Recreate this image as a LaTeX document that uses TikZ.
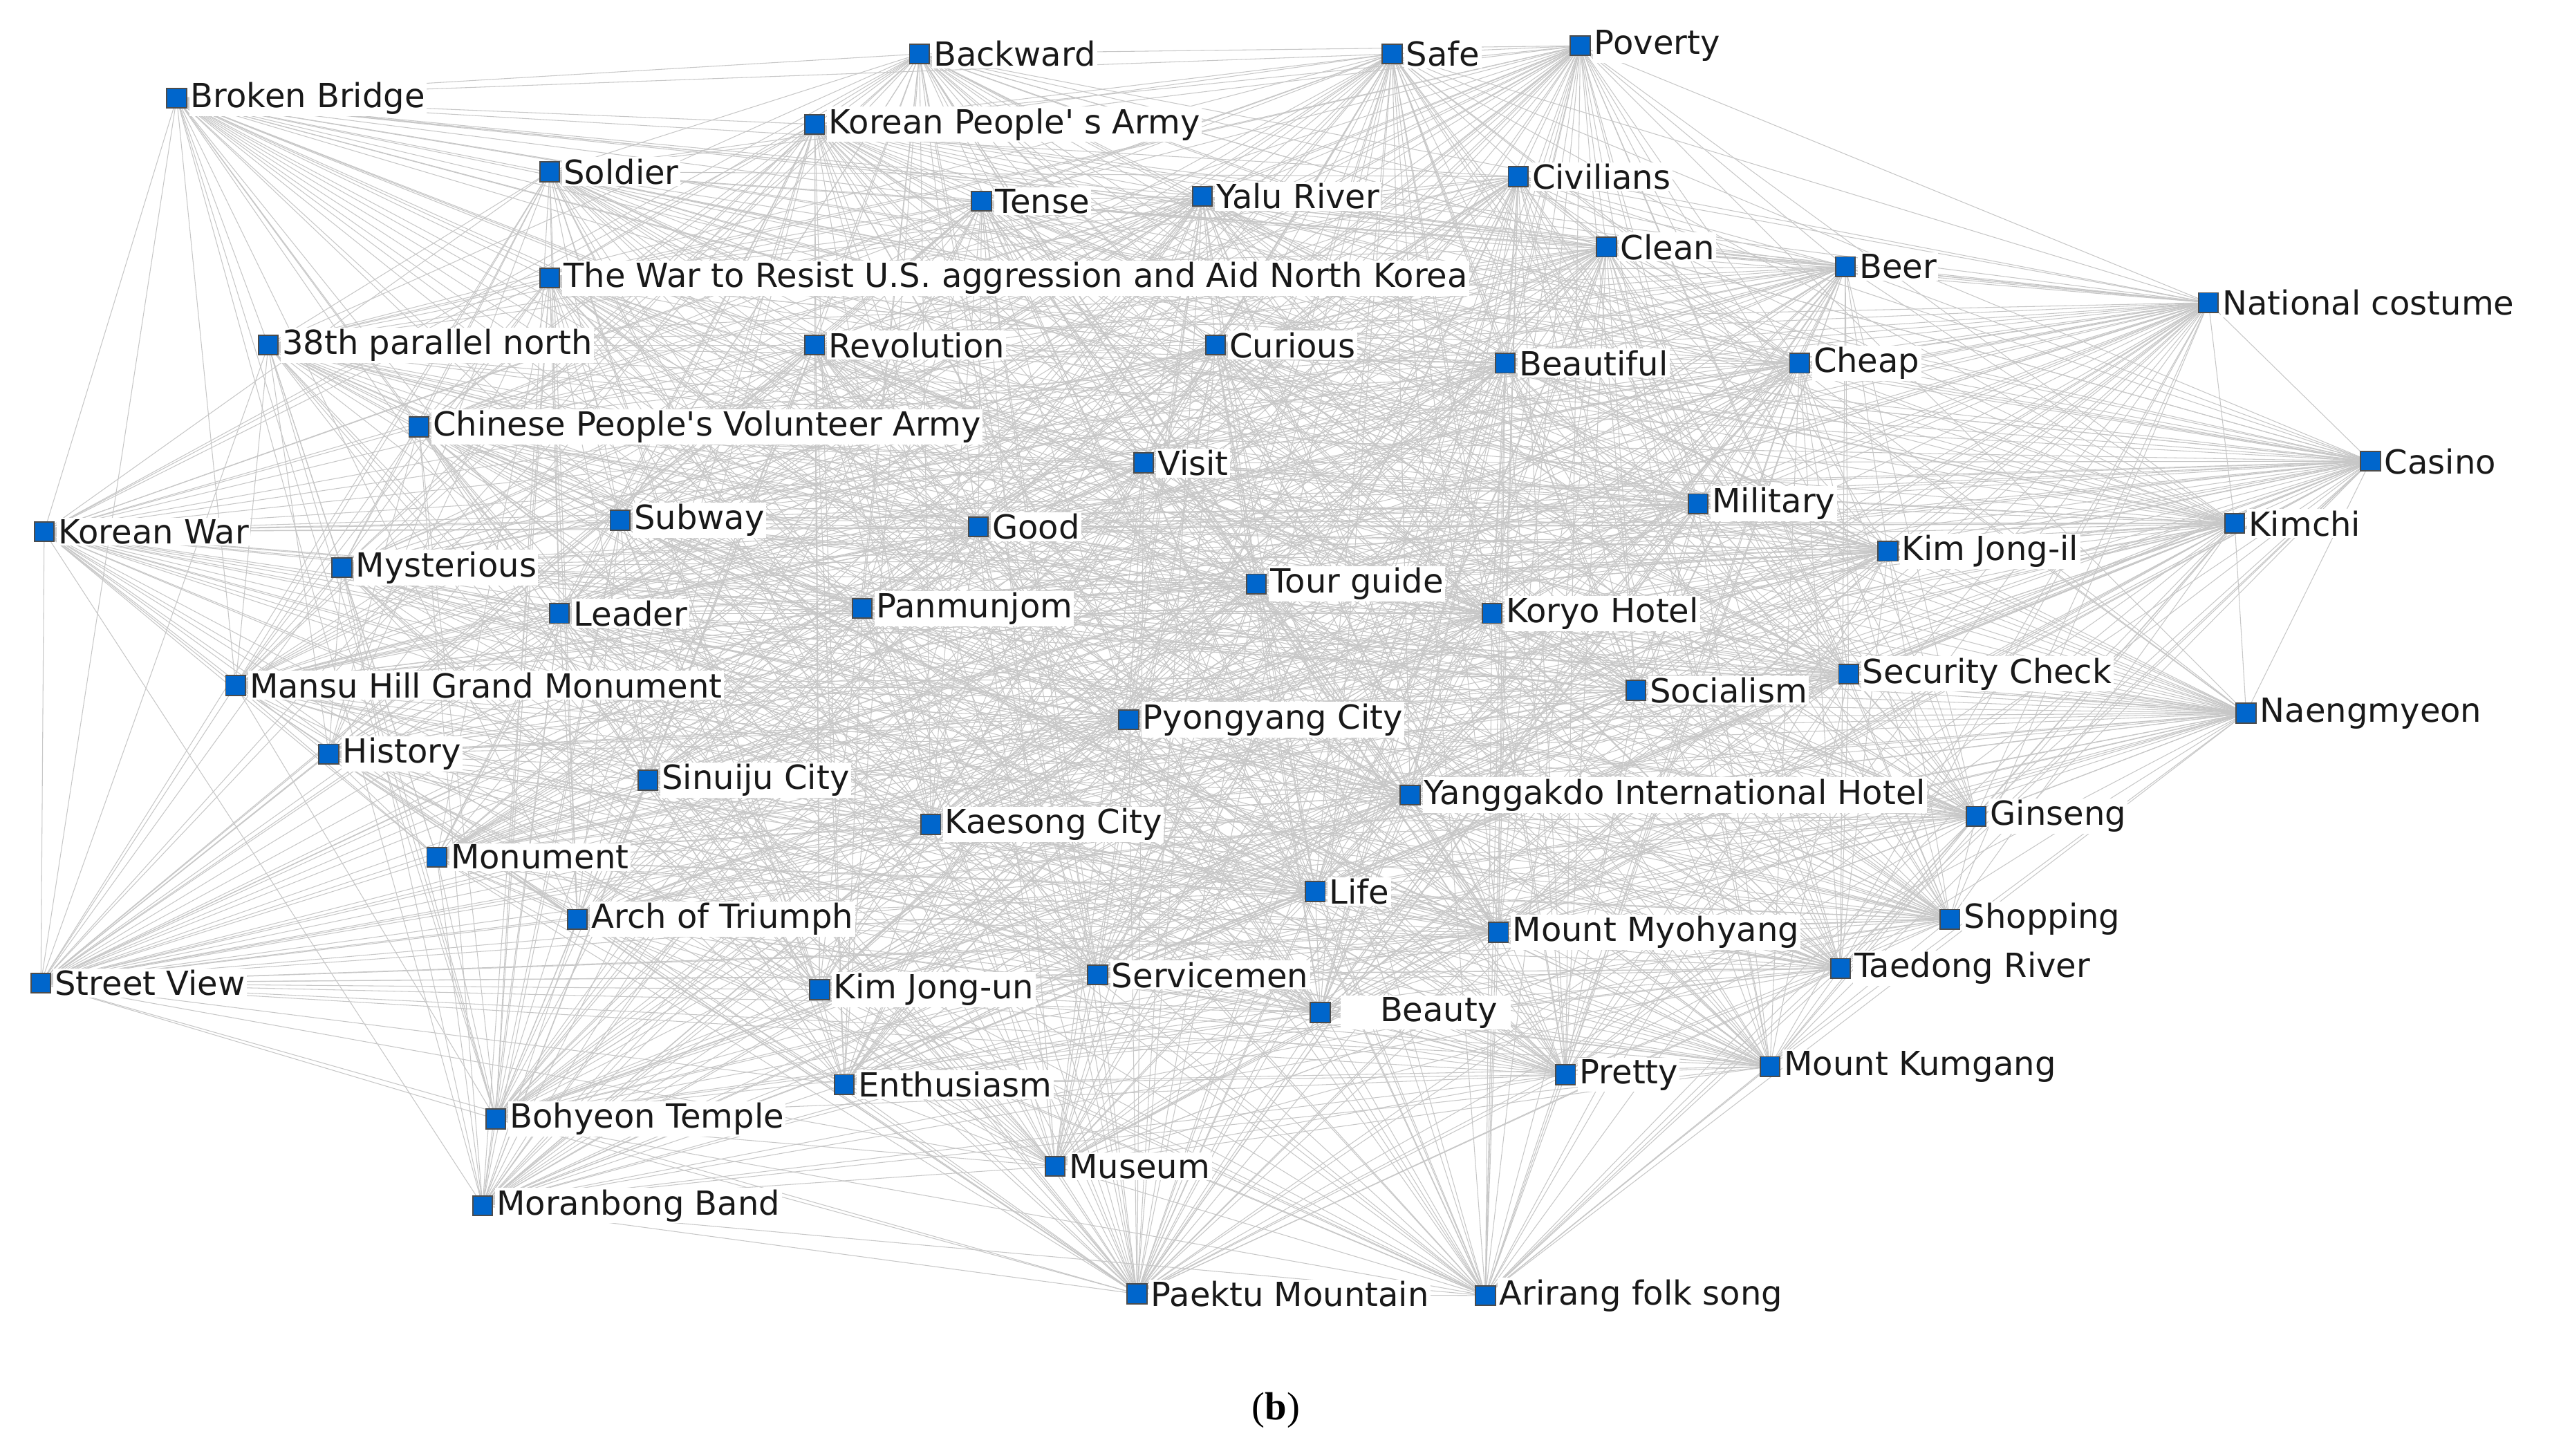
\documentclass[tikz,border=0pt]{standalone}
\usepackage{fontspec}
\setmainfont{DejaVu Sans}[Ligatures=TeXOff]
\newfontfamily\capfont{Liberation Serif}
\begin{document}
\pgfdeclarelayer{bg}\pgfsetlayers{bg,main}
\begin{tikzpicture}[x=1pt,y=-1pt,
 sq/.style={draw=black!70,fill={rgb,255:red,0;green,102;blue,204},minimum size=12pt,inner sep=0pt,line width=0.8pt},
 lab/.style={fill=white,inner sep=1pt,anchor=west,font=\fontsize{20.3}{22}\selectfont,text=black!90},
 edge/.style={draw=black!22,line width=0.45pt}]
\useasboundingbox (0,0) rectangle (1560,890);
\foreach \i/\x/\y in {
1/562/33, 2/851/33, 3/966/28, 4/108/60,
5/498/76, 6/336/105, 7/600/123, 8/735/120,
9/928/108, 10/982/151, 11/1128/163,
12/336/170,
13/1350/185, 14/164/211, 15/498/211,
16/743/211, 17/920/222, 18/1100/222,
19/256/261, 20/699/283, 21/1449/282,
22/27/325, 23/379/318, 24/598/322, 25/1038/308,
26/1366/320, 27/1154/337, 28/209/347, 29/342/375,
30/527/372, 31/768/357, 32/912/375,
33/144/419, 34/1000/422, 35/1130/412,
36/1373/436, 37/690/440, 38/201/461,
39/396/477, 40/569/504, 41/862/486,
42/1208/499, 43/267/524, 44/804/545, 45/353/562,
46/1192/562, 47/916/570, 48/25/601,
49/671/596, 50/501/605, 51/1125/592,
52/957/657, 53/1082/652, 54/516/663,
55/303/684, 56/645/713, 57/295/737,
58/695/791, 59/908/792, 60/807/619}{
 \node[sq] (n\i) at (\x,\y) {};
}
\pgfmathsetseed{7}
\begin{pgfonlayer}{bg}
\foreach \i in {1,...,60}{
 \foreach \j in {1,...,60}{
  \ifnum\j>\i
   \pgfmathsetmacro\r{rnd}
   \ifdim\r pt<0.8pt \draw[edge] (n\i.center) -- (n\j.center); \fi
  \fi
 }
}
\end{pgfonlayer}
\foreach \i/\t in {
1/Backward, 2/Safe, 3/Poverty, 4/Broken Bridge,
5/Korean People' s Army, 6/Soldier, 7/Tense, 8/Yalu River,
9/Civilians, 10/Clean, 11/Beer,
12/The War to Resist U.S. aggression and Aid North Korea,
13/National costume, 14/38th parallel north, 15/Revolution,
16/Curious, 17/Beautiful, 18/Cheap,
19/Chinese People's Volunteer Army, 20/Visit, 21/Casino,
22/Korean War, 23/Subway, 24/Good, 25/Military,
26/Kimchi, 27/Kim Jong-il, 28/Mysterious, 29/Leader,
30/Panmunjom, 31/Tour guide, 32/Koryo Hotel,
33/Mansu Hill Grand Monument, 34/Socialism, 35/Security Check,
36/Naengmyeon, 37/Pyongyang City, 38/History,
39/Sinuiju City, 40/Kaesong City, 41/Yanggakdo International Hotel,
42/Ginseng, 43/Monument, 44/Life, 45/Arch of Triumph,
46/Shopping, 47/Mount Myohyang, 48/Street View,
49/Servicemen, 50/Kim Jong-un, 51/Taedong River,
52/Pretty, 53/Mount Kumgang, 54/Enthusiasm,
55/Bohyeon Temple, 56/Museum, 57/Moranbong Band,
58/Paektu Mountain, 59/Arirang folk song}{
 \node[lab] (l\i) at ([xshift=1pt]n\i.east) {\t};
}
\node[lab,inner xsep=8pt] (l60) at ([xshift=6pt]n60.east) {\hspace*{16pt}Beauty};
\node[font=\fontsize{24}{26}\selectfont\capfont] (cap) at (780,862) {(\textbf{b})};
\end{tikzpicture}
\end{document}
